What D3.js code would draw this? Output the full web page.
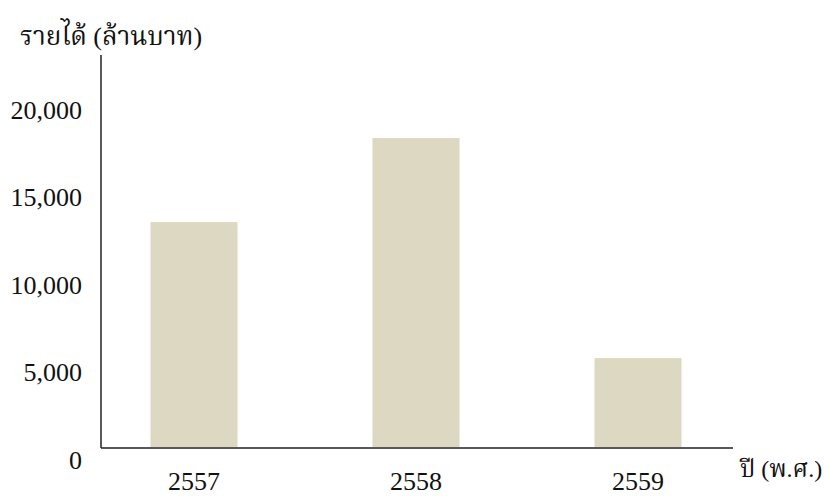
<!DOCTYPE html>
<html>
<head>
<meta charset="utf-8">
<script src="https://cdn.jsdelivr.net/npm/d3@7"></script>
<style>
  html, body { margin: 0; padding: 0; background: #fff; }
  svg text { font-family: "Liberation Serif", "Times New Roman", "Noto Serif Thai", "Noto Sans", serif; fill: #111; }
</style>
</head>
<body>
<svg id="chart" width="833" height="498"></svg>
<script>
const years = ["2557", "2558", "2559"];
const revenue = [12850, 17650, 5080];
const yTicks = [0, 5000, 10000, 15000, 20000];
const yTitle = "รายได้ (ล้านบาท)";
const xTitle = "ปี (พ.ศ.)";

const svg = d3.select("#chart");

const x = d3.scaleBand().domain(years).range([83, 749]).paddingInner(0.608).paddingOuter(0.304);
const y = d3.scaleLinear().domain([0, 22400]).range([447, 55]);
const fmt = d3.format(",");

// bars
svg.append("g").selectAll("rect").data(years).join("rect")
  .attr("x", d => x(d))
  .attr("width", x.bandwidth())
  .attr("y", (d, i) => y(revenue[i]))
  .attr("height", (d, i) => y(0) - y(revenue[i]))
  .attr("fill", "#ddd8c2");

// y axis
const yAxis = d3.axisLeft(y).tickValues(yTicks).tickFormat(fmt).tickSize(0).tickPadding(19);
const gy = svg.append("g").attr("transform", "translate(101,0)").call(yAxis);
gy.select(".domain").remove();
gy.selectAll("text").attr("font-size", 26).attr("dy", "0.32em")
  .attr("transform", "translate(0,13)")
  .style("font-family", "'Liberation Serif', serif").attr("fill", "#111");

svg.append("line").attr("x1", 101).attr("x2", 101).attr("y1", y.range()[1]).attr("y2", y(0) + 1)
  .attr("stroke", "#222").attr("stroke-width", 1.5);

// x axis
const xAxis = d3.axisBottom(x).tickSize(0).tickPadding(25);
const gx = svg.append("g").attr("transform", `translate(0,${y(0)})`).call(xAxis);
gx.select(".domain").remove();
gx.selectAll("text").attr("font-size", 26).attr("dy", "0.71em")
  .style("font-family", "'Liberation Serif', serif").attr("fill", "#111");

svg.append("line").attr("x1", 101).attr("x2", 733).attr("y1", y(0) + 1).attr("y2", y(0) + 1)
  .attr("stroke", "#222").attr("stroke-width", 1.5);

// titles
svg.append("text").attr("x", 20).attr("y", 45).attr("font-size", 26).text(yTitle);
svg.append("text").attr("x", 740).attr("y", 477).attr("font-size", 24).text(xTitle);
</script>
</body>
</html>
